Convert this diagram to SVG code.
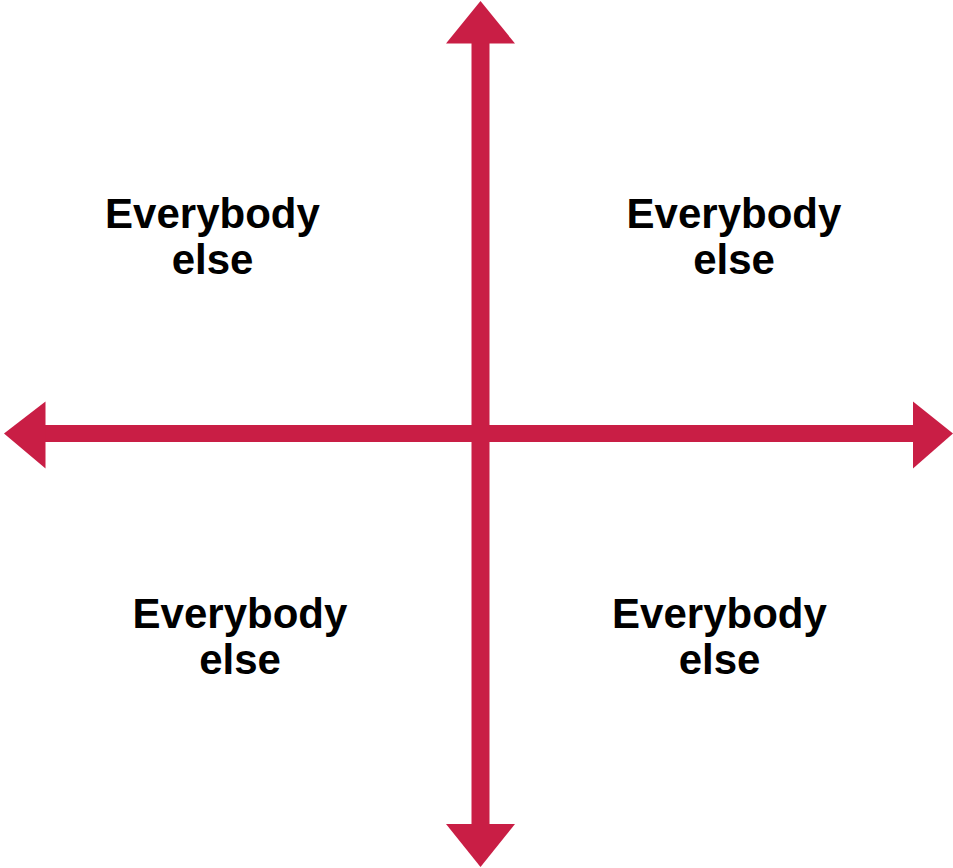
<svg xmlns="http://www.w3.org/2000/svg" width="953" height="868" viewBox="0 0 953 868">
<style>
.ax{fill:#C91E45}
.t{font-family:"Liberation Sans",Arial,sans-serif;font-weight:bold;font-size:42px;fill:#000;text-anchor:middle}
</style>
<rect width="953" height="868" fill="#fff"/>
<g id="connectors">
<rect class="ax" x="471.5" y="40" width="18" height="788"/>
<rect class="ax" x="42" y="425" width="874" height="17"/>
<polygon class="ax" points="480.5,1 515,43.5 446,43.5"/>
<polygon class="ax" points="480.5,867 515,824 446,824"/>
<polygon class="ax" points="4,433.5 45.5,401.5 45.5,468.5"/>
<polygon class="ax" points="953,433.5 913,401.5 913,468.5"/>
</g>
<g id="q1"><text class="t" x="212.5" y="228">Everybody</text><text class="t" x="212.5" y="274">else</text></g>
<g id="q2"><text class="t" x="734" y="228">Everybody</text><text class="t" x="734" y="274">else</text></g>
<g id="q3"><text class="t" x="240" y="628">Everybody</text><text class="t" x="240" y="674">else</text></g>
<g id="q4"><text class="t" x="719.5" y="628">Everybody</text><text class="t" x="719.5" y="674">else</text></g>
</svg>
